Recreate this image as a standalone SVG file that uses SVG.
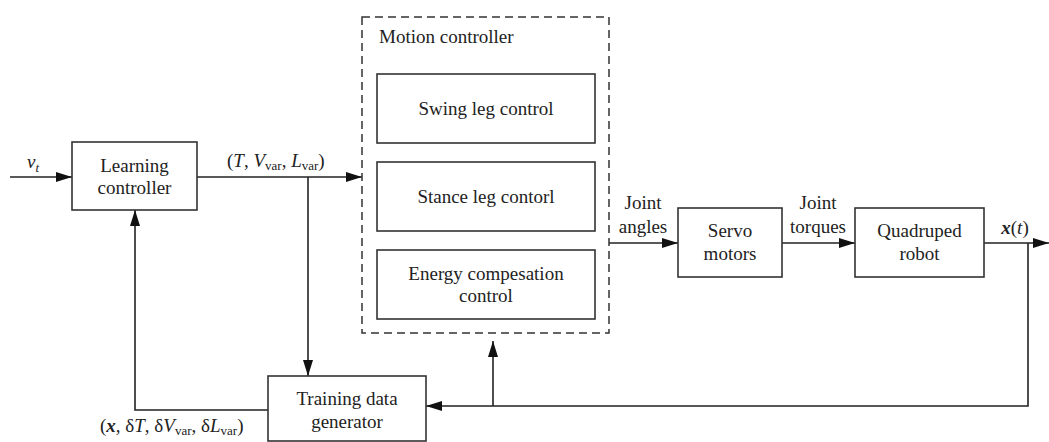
<svg xmlns="http://www.w3.org/2000/svg" width="1049" height="442" viewBox="0 0 1049 442" font-family="'Liberation Serif', 'DejaVu Serif', serif">
<defs>
<style>
.box{fill:#fff;stroke:#333;stroke-width:1.6}
.dash{fill:none;stroke:#333;stroke-width:1.5;stroke-dasharray:8,5}
.wire{fill:none;stroke:#222;stroke-width:1.6}
text{font-family:'Liberation Serif','DejaVu Serif',serif;font-size:19px;fill:#222}
.c{text-anchor:middle}
.sub{font-size:13px}
</style>
<marker id="ah" viewBox="0 0 16 10" refX="16" refY="5" markerWidth="16" markerHeight="10" markerUnits="userSpaceOnUse" orient="auto">
<path d="M0,0 L16,5 L0,10 z" fill="#111"/>
</marker>
</defs>
<g id="connectors">
<path class="wire" d="M10,177 H72" marker-end="url(#ah)"/>
<path class="wire" d="M197,177 H362" marker-end="url(#ah)"/>
<path class="wire" d="M308,177 V376" marker-end="url(#ah)"/>
<path class="wire" d="M268,410 H135 V210" marker-end="url(#ah)"/>
<path class="wire" d="M609,243 H678" marker-end="url(#ah)"/>
<path class="wire" d="M782,243 H855" marker-end="url(#ah)"/>
<path class="wire" d="M984,243 H1049" marker-end="url(#ah)"/>
<path class="wire" d="M1028,243 V406 H426" marker-end="url(#ah)"/>
<path class="wire" d="M493,406 V341" marker-end="url(#ah)"/>
</g>
<g id="labels">
<text x="27" y="168" font-style="italic">v<tspan class="sub" dy="4">t</tspan></text>
<text x="227" y="167">(<tspan font-style="italic">T</tspan>, <tspan font-style="italic">V</tspan><tspan class="sub" dy="3">var</tspan><tspan dy="-3">, </tspan><tspan font-style="italic">L</tspan><tspan class="sub" dy="3">var</tspan><tspan dy="-3">)</tspan></text>
<text x="100" y="432">(<tspan font-style="italic" font-weight="bold">x</tspan>, δ<tspan font-style="italic">T</tspan>, δ<tspan font-style="italic">V</tspan><tspan class="sub" dy="3">var</tspan><tspan dy="-3">, δ</tspan><tspan font-style="italic">L</tspan><tspan class="sub" dy="3">var</tspan><tspan dy="-3">)</tspan></text>
<text class="c" x="643" y="209">Joint</text>
<text class="c" x="643" y="233">angles</text>
<text class="c" x="818" y="209">Joint</text>
<text class="c" x="818" y="233">torques</text>
<text class="c" x="1015" y="234"><tspan font-style="italic" font-weight="bold">x</tspan>(<tspan font-style="italic">t</tspan>)</text>
</g>
<g id="learning-controller">
<rect class="box" x="72" y="142" width="125" height="68"/>
<text class="c" x="134.5" y="172">Learning</text>
<text class="c" x="134.5" y="194">controller</text>
</g>
<g id="motion-controller">
<rect class="dash" x="362" y="17" width="247" height="316"/>
<text x="379" y="43">Motion controller</text>
</g>
<g id="swing-leg-control">
<rect class="box" x="377" y="74" width="218" height="69"/>
<text class="c" x="486" y="115">Swing leg control</text>
</g>
<g id="stance-leg-control">
<rect class="box" x="377" y="162" width="218" height="69"/>
<text class="c" x="486" y="203">Stance leg contorl</text>
</g>
<g id="energy-compensation-control">
<rect class="box" x="377" y="250" width="218" height="69"/>
<text class="c" x="486" y="280">Energy compesation</text>
<text class="c" x="486" y="302">control</text>
</g>
<g id="servo-motors">
<rect class="box" x="678" y="208" width="104" height="69"/>
<text class="c" x="730" y="237">Servo</text>
<text class="c" x="730" y="260">motors</text>
</g>
<g id="quadruped-robot">
<rect class="box" x="855" y="208" width="129" height="69"/>
<text class="c" x="919.5" y="237">Quadruped</text>
<text class="c" x="919.5" y="260">robot</text>
</g>
<g id="training-data-generator">
<rect class="box" x="268" y="376" width="158" height="65"/>
<text class="c" x="347" y="405">Training data</text>
<text class="c" x="347" y="428">generator</text>
</g>
</svg>
